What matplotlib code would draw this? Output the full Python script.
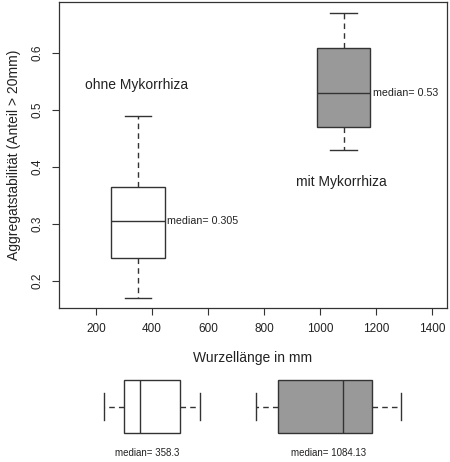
import matplotlib
matplotlib.use("Agg")
import matplotlib.pyplot as plt

# ===== DATA =====
groups = ["ohne Mykorrhiza", "mit Mykorrhiza"]
fills = ["white", "#999999"]
x_pos = [350, 1085]          # where the boxes sit on the root-length axis

# Aggregatstabilitaet (share > 20 mm)
agg_low = [0.17, 0.43]
agg_q1 = [0.24, 0.47]
agg_med = [0.305, 0.53]
agg_q3 = [0.365, 0.61]
agg_high = [0.49, 0.67]

# Wurzellaenge in mm
root_low = [228, 771]
root_q1 = [301, 851]
root_med = [358.3, 1084.13]
root_q3 = [501, 1187]
root_high = [571, 1289]

group_label_x = [345, 1077]
group_label_y = [0.544, 0.374]
root_label_x = [384, 1031]
# ================

plt.rcParams["font.family"] = ["Liberation Sans", "DejaVu Sans"]
LC = "#333333"
TC = "#222222"

fig = plt.figure(figsize=(4.5, 4.62), dpi=100)
ax = fig.add_axes([59 / 450, 1 - 308 / 462, 388 / 450, 306 / 462])


def stats(lo, q1, med, q3, hi):
    return [dict(whislo=lo[i], q1=q1[i], med=med[i], q3=q3[i], whishi=hi[i],
                 fliers=[]) for i in range(len(med))]


def draw(axis, st, pos, vert, width):
    b = axis.bxp(st, positions=pos, widths=width, vert=vert, patch_artist=True,
                 showfliers=False, manage_ticks=False,
                 boxprops=dict(edgecolor=LC, linewidth=1.0),
                 medianprops=dict(color=LC, linewidth=1.0),
                 whiskerprops=dict(color=LC, linewidth=1.0, linestyle=(0, (4, 3))),
                 capprops=dict(color=LC, linewidth=1.0))
    for patch, c in zip(b["boxes"], fills):
        patch.set_facecolor(c)
    return b


# main panel: aggregate stability against root length
draw(ax, stats(agg_low, agg_q1, agg_med, agg_q3, agg_high), x_pos, True, 190)
ax.set_xlim(68, 1454)
ax.set_ylim(0.152, 0.690)
ax.set_xticks([200, 400, 600, 800, 1000, 1200, 1400])
ax.set_yticks([0.2, 0.3, 0.4, 0.5, 0.6])
ax.set_yticklabels(["0.2", "0.3", "0.4", "0.5", "0.6"], rotation=90, va="center")
ax.tick_params(direction="out", length=5, width=0.8, color=LC, labelsize=8.5,
               labelcolor=TC, pad=6)
for s in ax.spines.values():
    s.set_color(LC)
    s.set_linewidth(0.9)
ax.set_ylabel("Aggregatstabilität (Anteil > 20mm)", fontsize=10, color=TC,
              labelpad=8)

for i, g in enumerate(groups):
    ax.text(group_label_x[i], group_label_y[i], g, ha="center", va="center",
            fontsize=10, color=TC)
    ax.text(x_pos[i] + 95 + 8, agg_med[i], f"median= {agg_med[i]}", ha="left",
            va="center", fontsize=7.7, color=TC)

fig.text(253 / 450, 1 - 358 / 462, "Wurzellänge in mm", ha="center", va="center",
         fontsize=10, color=TC)

# bottom panel: root length distributions, horizontal boxes
ax2 = fig.add_axes([59 / 450, 0, 388 / 450, 92 / 462])
ax2.set_xlim(68, 1454)
ax2.set_ylim(0, 1)
draw(ax2, stats(root_low, root_q1, root_med, root_q3, root_high),
     [0.603, 0.603], False, 0.576)
for i in range(len(groups)):
    ax2.text(root_label_x[i], 0.098, f"median= {root_med[i]}", ha="center",
             va="center", fontsize=7, color=TC)
ax2.axis("off")

fig.savefig("out.png", dpi=100)
